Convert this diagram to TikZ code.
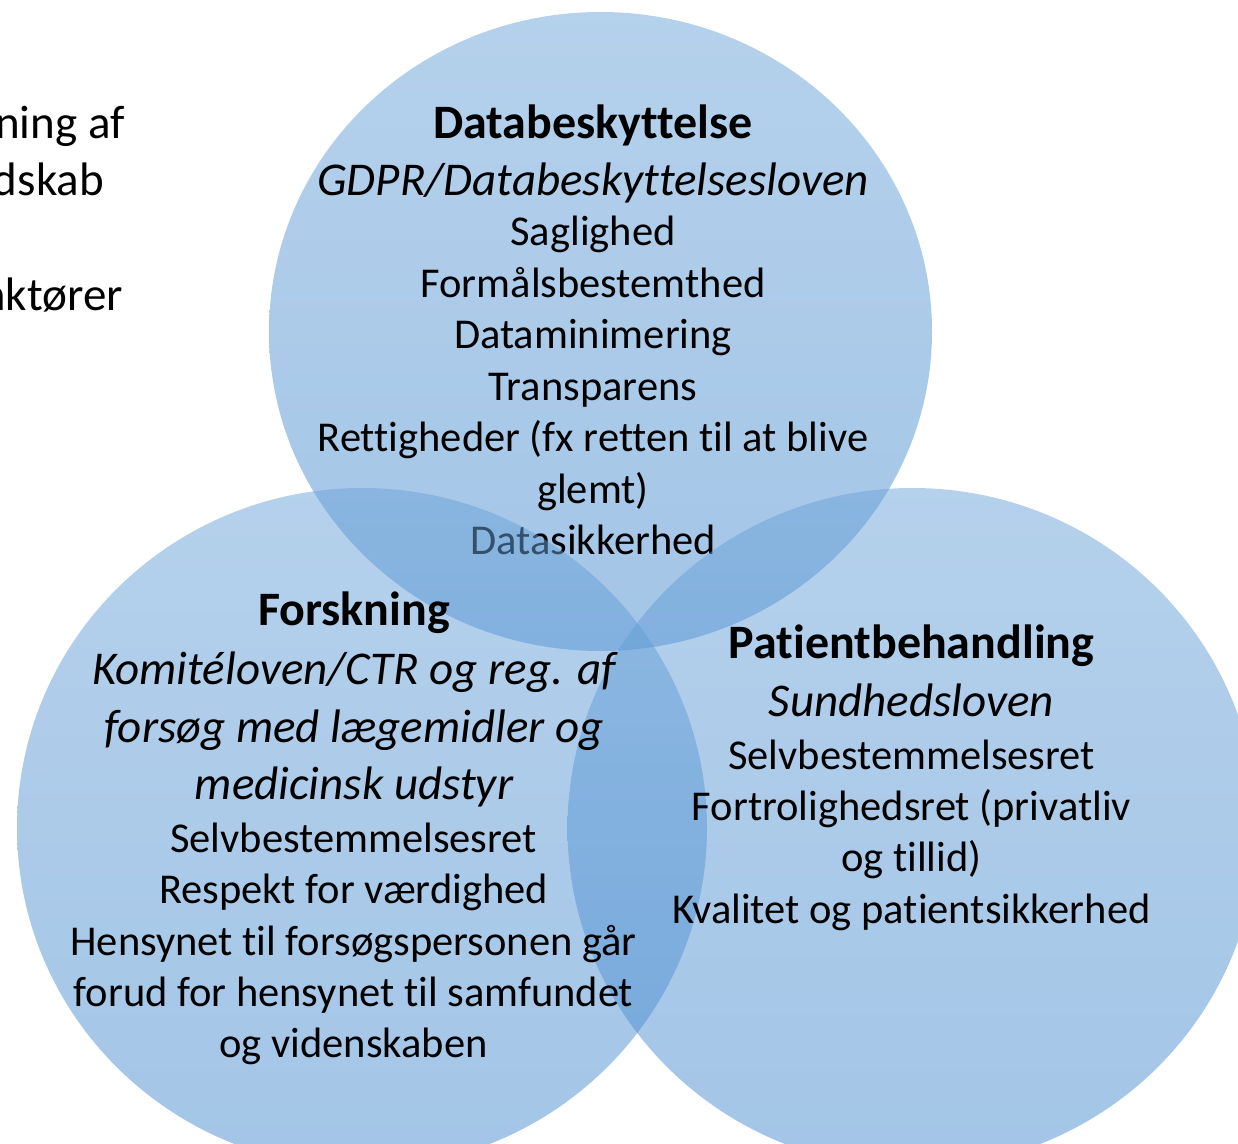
\documentclass[tikz,border=0pt]{standalone}
\usepackage{fontspec}
\setmainfont{Carlito}[Ligatures={NoCommon}]
\definecolor{VennTop}{RGB}{107,163,217}
\definecolor{VennBot}{RGB}{71,139,207}

\begin{document}
\begin{tikzpicture}[x=1pt,y=1pt,yscale=-1,xscale=1,
    venn/.style={top color=VennTop, bottom color=VennBot, fill opacity=0.5, draw=none},
    head/.style={anchor=base, inner sep=0.75pt, font=\fontsize{48}{57}\selectfont\bfseries},
    law/.style={anchor=base, inner sep=0.75pt, font=\fontsize{47}{57}\selectfont\itshape},
    item/.style={anchor=base, inner sep=0.75pt, font=\fontsize{42.5}{51}\selectfont},
    side/.style={anchor=base east, inner sep=0pt, font=\fontsize{47}{57}\selectfont}]
		% Page frame, everything outside is cut away
		\useasboundingbox (0,0) rectangle (1238,1143);
		\clip (0,0) rectangle (1238,1143);

		% Text cut off at the left edge
		\node[side] (sideA) at (125,138) {ning af};
		\node[side] (sideB) at (104,195.5) {dskab};
		\node[side] (sideC) at (123,310) {aktører};

		% Top circle: Databeskyttelse
		\path[venn] (600.5,331.5) ellipse [x radius=331.5, y radius=319.5];
		\node[head] (dbTitle) at (593,138) {Databeskyttelse};
		\node[law]  (dbLaw)   at (593,195) {GDPR/Databeskyttelsesloven};
		\node[item] (dbA) at (593,245) {Saglighed};
		\node[item] (dbB) at (593,297) {Formålsbestemthed};
		\node[item] (dbC) at (593,348) {Dataminimering};
		\node[item] (dbD) at (593,400) {Transparens};
		\node[item] (dbE) at (593,451) {Rettigheder (fx retten til at blive};
		\node[item] (dbF) at (593,503) {glemt)};
		\node[item] (dbG) at (593,554) {Datasikkerhed};

		% Lower circles: Forskning (left) and Patientbehandling (right)
		\path[venn] (362,828) ellipse [x radius=345, y radius=340];
		\path[venn] (912.5,828) ellipse [x radius=345, y radius=340];

		% Text of the left circle
		\node[head] (fsTitle) at (354,625) {Forskning};
		\node[law]  (fsLawA)  at (354,684) {Komitéloven/CTR og reg. af};
		\node[law]  (fsLawB)  at (354,742) {forsøg med lægemidler og};
		\node[law]  (fsLawC)  at (354,799) {medicinsk udstyr};
		\node[item] (fsA) at (353.5,852) {Selvbestemmelsesret};
		\node[item] (fsB) at (353.5,903) {Respekt for værdighed};
		\node[item] (fsC) at (353.5,955) {Hensynet til forsøgspersonen går};
		\node[item] (fsD) at (353.5,1006) {forud for hensynet til samfundet};
		\node[item] (fsE) at (353.5,1057) {og videnskaben};

		% Text of the right circle
		\node[head] (pbTitle) at (911.5,658) {Patientbehandling};
		\node[law]  (pbLaw)   at (911.5,716) {Sundhedsloven};
		\node[item] (pbA) at (911.5,769) {Selvbestemmelsesret};
		\node[item] (pbB) at (911.5,820) {Fortrolighedsret (privatliv};
		\node[item] (pbC) at (911.5,871) {og tillid)};
		\node[item] (pbD) at (911.5,923) {Kvalitet og patientsikkerhed};
\end{tikzpicture}
\end{document}
